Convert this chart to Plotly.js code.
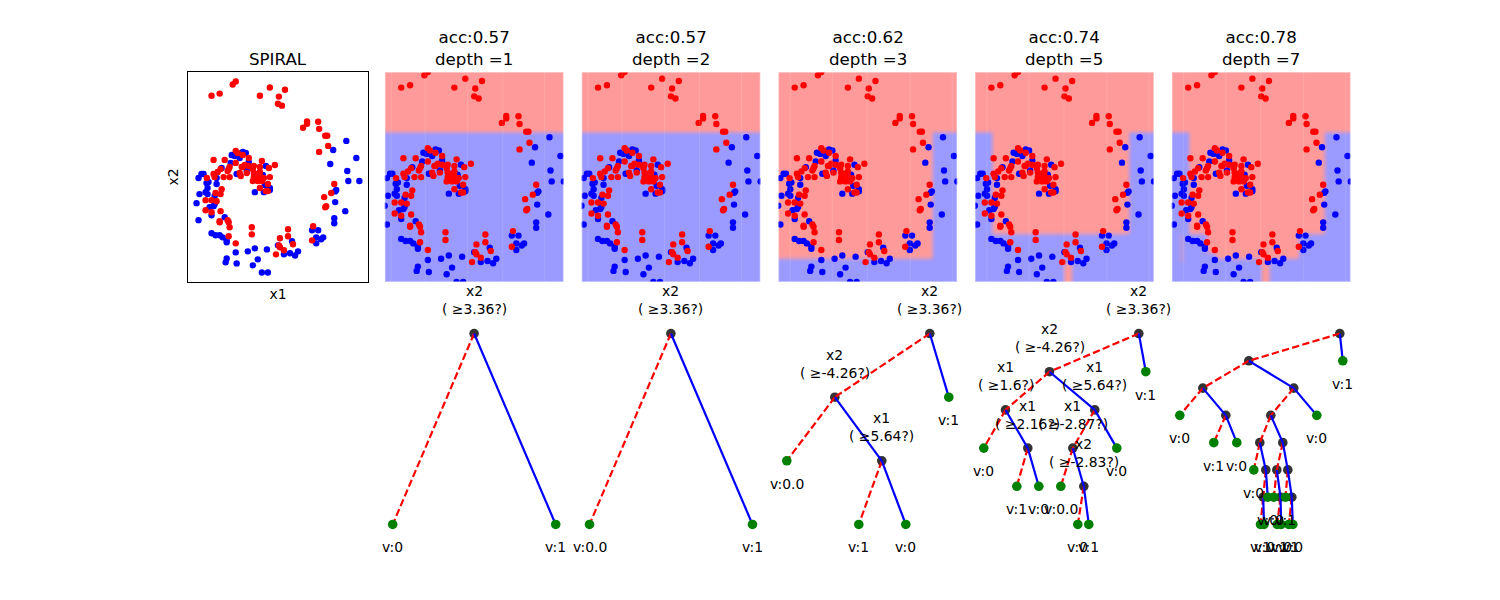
<!DOCTYPE html>
<html><head><meta charset="utf-8">
<script src="https://cdn.plot.ly/plotly-3.0.1.min.js"></script>
<style>html,body{margin:0;padding:0;background:#fff}</style></head>
<body><div id="chart" style="width:1500px;height:600px"></div>
<script>
// class 1 samples
const redX1=[-5.03,-4.34,-3.23,-2.97,-0.91,-0.06,1.23,0.71,0.63,0.97,2.77,3.11,3.11,4.06,4.14,4.66,4.83,4.91,4.14,5.43,5.17,4.57,4.74,4.66,3.63,3.54,1.49,1.49,0.80,1.91,0.71,0.80,1.14,0.46,-1.60,-1.60,-2.97,-3.57,-4.26,-4.34,-4.34,-3.66,-3.57,-3.49,-5.54,-5.54,-5.03,-5.03,-4.60,-4.69,-4.26,-4.17,-4.86,-3.91,-2.97,-2.80,-2.37,-1.86,-2.97,-0.74,0.37,-0.14,-0.91,-1.43,-1.86,-2.20,-2.37,-2.46,-3.49,-3.57,-3.66,-4.26,-4.51,-4.86,-4.77,-4.00,-3.49,-5.43,-2.63,-2.54,-2.03,-1.51,-1.43,-0.91,-1.09,-0.91,-1.17,-1.43,-1.51,-1.09,-0.66,-0.57,-0.06,-0.74,-0.23,-0.91,-0.23,-0.40];
const redX2=[6.02,6.16,6.76,6.96,6.02,6.56,6.42,5.96,5.49,5.36,3.89,4.31,4.16,4.29,3.82,3.36,3.36,2.69,2.29,0.16,-0.44,-0.71,-1.31,-1.38,-2.64,-3.58,-2.84,-3.31,-3.44,-3.84,-3.91,-4.04,-4.24,-4.51,-2.71,-3.18,-3.78,-3.31,-1.64,-2.31,-2.38,-2.24,-2.38,-2.71,-0.91,-1.58,-0.91,-1.71,-0.98,-0.44,-0.51,-0.18,1.76,1.76,2.36,2.22,2.09,1.89,1.56,1.69,1.42,1.22,1.29,1.36,1.36,1.42,1.29,1.29,1.29,1.16,1.02,1.16,0.96,0.82,0.62,0.62,0.62,0.56,0.89,0.69,0.89,1.16,0.89,0.96,0.82,0.67,0.56,0.62,0.36,0.36,0.49,0.56,0.62,0.36,0.16,-0.11,-0.31,-0.31];
// class 0 samples
const blueX1=[6.46,5.34,7.31,5.09,6.54,6.63,7.57,5.60,5.51,5.51,6.37,5.43,5.43,3.54,4.06,3.89,4.49,4.31,3.89,2.34,2.09,1.66,1.14,1.83,0.63,-0.31,-1.34,-1.94,-2.97,-1.09,-3.74,-3.83,-2.89,-1.51,-0.74,-0.23,-5.03,-4.69,-4.34,-4.09,-3.74,-3.74,-3.91,-6.14,-5.03,-5.20,-4.86,-4.77,-6.31,-4.77,-6.06,-5.54,-5.37,-5.37,-4.60,-5.29,-5.46,-6.14,-5.89,-5.71,-4.60,-4.17,-3.40,-3.31,-3.06,-2.63,-2.37,-2.11,-1.86,-2.89,-2.03,-0.66,-0.40,-1.34,-0.57,-0.06,-0.06,-0.49];
const blueX2=[3.02,2.42,1.89,1.49,1.02,0.36,0.36,-0.24,-0.33,-1.04,-1.64,-2.11,-2.44,-2.91,-2.91,-3.38,-3.38,-3.51,-3.78,-4.31,-4.58,-4.44,-4.51,-3.64,-3.91,-4.18,-4.11,-4.31,-4.38,-4.84,-4.78,-5.04,-5.11,-5.24,-5.71,-5.71,-3.11,-3.24,-3.24,-3.38,-3.58,-3.71,-2.04,-2.24,-1.91,-1.38,-1.31,-1.18,-1.11,-0.64,-0.51,-0.38,-0.51,-0.11,0.16,0.29,0.22,0.56,0.82,0.82,0.56,1.22,1.56,2.09,2.02,1.89,2.29,2.22,1.62,0.82,1.02,0.76,1.36,-0.38,-0.38,-0.11,-0.24,0.09];

const panelTitles=["acc:0.57<br>depth =1","acc:0.57<br>depth =2","acc:0.62<br>depth =3","acc:0.74<br>depth =5","acc:0.78<br>depth =7"];

// class 1 rectangles of each decision surface: [x1 from, x1 to, x2 from, x2 to, level]
const regionsD1=[[-9,9,3.36,9,1]];
const regionsD2=[[-9,9,3.36,9,1]];
const regionsD3=[[-9,9,3.36,9,1],[-9,5.64,-4.26,3.36,1]];
const regionsD5=[[-9,9,3.36,9,1],[-4.98,5.64,-2.76,3.36,1],[0.55,1.15,-9,-4.5,1]];
const regionsD7=[[-9,9,3.36,9,1],[-4.98,5.5,-2.76,3.36,1],[-3.6,3.51,-3.9,-2.76,1],[-2.9,3.51,-4.26,-2.76,1],[0.6,1.2,-9,-4.26,1],[-5.75,-5.4,-4.5,-2.76,0.3]];
// faint light seams in the surfaces, on the x1 axis
const seamsEarly=[-5.81,-3.17,0.12,2.84,6.09];
const seamsLate=[-5.38,-2.12,0.59,3.92,7.18];

// trees
const t1X=[89.4,8,171], t1Depth=[0,1,1], t1Parent=[-1,0,0], t1Branch=["","n","y"], t1Leaf=["","v:0","v:1"], t1Split=["x2","",""], t1Thresh=["3.36","",""];
const t2X=[89.4,8,171], t2Depth=[0,1,1], t2Parent=[-1,0,0], t2Branch=["","n","y"], t2Leaf=["","v:0.0","v:1"], t2Split=["x2","",""], t2Thresh=["3.36","",""];
const t3X=[151.6,56.6,170.6,8.6,103.6,80.6,127.6], t3Depth=[0,1,1,2,2,3,3], t3Parent=[-1,0,0,1,1,4,4], t3Branch=["","n","y","n","y","n","y"],
  t3Leaf=["","","v:1","v:0.0","","v:1","v:0"], t3Split=["x2","x2","","","x1","",""], t3Thresh=["3.36","-4.26","","","5.64","",""];
const t4X=[163.9,170.9,74.6,30.6,119.9,8.9,52.9,97.9,141.9,41.9,63.9,85.9,108.9,102.9,113.9],
  t4Depth=[0,1,1,2,2,3,3,3,3,4,4,4,4,5,5],
  t4Parent=[-1,0,0,2,2,3,3,4,4,6,6,7,7,12,12],
  t4Branch=["","y","n","n","y","n","y","n","y","n","y","n","y","n","y"],
  t4Leaf=["","v:1","","","","v:0","","","v:0","v:1","v:0","v:0.0","","v:0","v:1"],
  t4Split=["x2","","x2","x1","x1","","x1","x1","","","","","x2","",""],
  t4Thresh=["3.36","","-4.26","1.6","5.64","","2.16","-2.87","","","","","-2.83","",""];
const t5X=[168.1,171.1,77.1,31.1,122.1,8.1,54.1,99.1,145.1,42.1,65.1,88.1,111.1,82.1,94.1,105.1,116.1,91.5,96.1,102.1,108.8,113.8,120.1,88.8,92.3,105.5,109.5,117.1,121.1],
  t5Depth=[0,1,1,2,2,3,3,3,3,4,4,4,4,5,5,5,5,6,6,6,6,6,6,7,7,7,7,7,7],
  t5Parent=[-1,0,0,2,2,3,3,4,4,6,6,7,7,11,11,12,12,14,14,15,15,16,16,17,17,20,20,22,22],
  t5Branch=["","y","n","n","y","n","y","n","y","n","y","n","y","n","y","n","y","n","y","n","y","n","y","n","y","n","y","n","y"],
  t5Leaf=["","v:1","","","","v:0","","","v:0","v:1","v:0","","","v:0","","","","","v:0","v:0","","v:1","","v:1","v:0","v:1","v:0","v:1","v:0"],
  t5Split=[], t5Thresh=[];

const font="DejaVu Sans";
const lefts=[188.4,384.7,581.5,778.2,974.9,1171.7], W=179.1, H=600;
const pw=1500;
const xd=i=>[lefts[i]/pw,(lefts[i]+W)/pw];
const topDom=[(H-282)/H,(H-72)/H], botDom=[(H-534)/H,(H-324)/H];

const allX=redX1.concat(blueX1), allX2=redX2.concat(blueX2);
const xMin=Math.min(...allX), xMax=Math.max(...allX), yMin=Math.min(...allX2), yMax=Math.max(...allX2);
const mx=(xMax-xMin)*0.05, my=(yMax-yMin)*0.05;

const traces=[], annotations=[], shapes=[], layout={width:1500,height:600,margin:{l:0,r:0,t:0,b:0},showlegend:false,paper_bgcolor:"#fff",plot_bgcolor:"#fff",font:{family:font,color:"#000"},hovermode:false};

function axis(dom,range,extra){return Object.assign({domain:dom,range:range,showgrid:false,zeroline:false,showticklabels:false,ticks:"",showline:false,fixedrange:true},extra||{});}
function points(xa,ya){
  const m=(c)=>({color:c,size:6.4,line:{width:0}});
  traces.push({type:"scatter",mode:"markers",x:blueX1,y:blueX2,xaxis:xa,yaxis:ya,marker:m("#0000ff")});
  traces.push({type:"scatter",mode:"markers",x:redX1,y:redX2,xaxis:xa,yaxis:ya,marker:m("#ff0000")});
}
function surface(regions,xa,ya,seams){
  const nx=90, ny=105, gx=[], gy=[], z=[], wx=0.2, wy=0.16, ss=4;
  const at=(x,y)=>{ let v=0; for(const r of regions){ if(x>=r[0]&&x<r[1]&&y>=r[2]&&y<r[3]) v=r[4]; } return v; };
  for(let i=0;i<nx;i++) gx.push(xMin+(xMax-xMin)*i/(nx-1));
  for(let j=0;j<ny;j++) gy.push(yMin+(yMax-yMin)*j/(ny-1));
  for(const y of gy){ const row=[]; for(const x of gx){
      let s=0,n=0;
      for(let a=-ss;a<=ss;a++) for(let b=-ss;b<=ss;b++){ s+=at(x+a/ss*wx,y+b/ss*wy); n++; }
      row.push(s/n);
    } z.push(row); }
  traces.push({type:"heatmap",x:gx,y:gy,z:z,zmin:0,zmax:1,zsmooth:"best",showscale:false,xaxis:xa,yaxis:ya,hoverinfo:"skip",colorscale:[[0,"#9a9aff"],[1,"#ff9a9a"]]});
  seams.forEach(s=>shapes.push({type:"line",xref:xa,yref:ya+" domain",x0:s,x1:s,y0:0,y1:1,layer:"above",line:{color:"rgba(255,255,255,0.12)",width:1}}));
  shapes.push({type:"rect",xref:xa+" domain",yref:ya+" domain",x0:0,x1:1,y0:0,y1:1,layer:"above",line:{color:"rgba(255,255,255,0.4)",width:2}});
}
function tree(X,Depth,Parent,Branch,Leaf,Split,Thresh,xa,ya){
  const D=Math.max(...Depth), yv=Depth.map(d=>-d/D);
  const isLeaf=Leaf.map(s=>s!=="");
  const rx=[],ry=[],bx=[],by=[];
  Parent.forEach((p,i)=>{ if(p<0)return; const ax=Branch[i]==="n"?rx:bx, ay=Branch[i]==="n"?ry:by; ax.push(X[p],X[i],null); ay.push(yv[p],yv[i],null); });
  traces.push({type:"scatter",mode:"markers",x:X.filter((_,i)=>!isLeaf[i]),y:yv.filter((_,i)=>!isLeaf[i]),xaxis:xa,yaxis:ya,cliponaxis:false,marker:{color:"#333333",size:9.6,line:{width:0}}});
  traces.push({type:"scatter",mode:"lines",x:rx,y:ry,xaxis:xa,yaxis:ya,cliponaxis:false,line:{color:"#ff0000",width:2.2,dash:"7.4px,3.2px"}});
  traces.push({type:"scatter",mode:"lines",x:bx,y:by,xaxis:xa,yaxis:ya,cliponaxis:false,line:{color:"#0000ff",width:2.2}});
  traces.push({type:"scatter",mode:"markers",x:X.filter((_,i)=>isLeaf[i]),y:yv.filter((_,i)=>isLeaf[i]),xaxis:xa,yaxis:ya,cliponaxis:false,marker:{color:"#008000",size:9.6,line:{width:0}}});
  const note=(i,text,shift)=>annotations.push({xref:xa,yref:ya,x:X[i],y:yv[i],text:text,showarrow:false,yshift:shift,xanchor:"center",yanchor:"middle",font:{size:13.9,family:font,color:"#000"}});
  X.forEach((_,i)=>{
    if(isLeaf[i]) note(i,Leaf[i],-23);
    else if(Split[i]){ note(i,Split[i],42.5); note(i,"( ≥"+Thresh[i]+"?)",24.5); }
  });
}

// SPIRAL panel
layout.xaxis=axis(xd(0),[xMin-mx,xMax+mx],{showline:true,mirror:true,linecolor:"#000",linewidth:1,title:{text:"x1",font:{size:13.9,family:font,color:"#000"},standoff:7}});
layout.yaxis=axis(topDom,[yMin-my,yMax+my],{showline:true,mirror:true,linecolor:"#000",linewidth:1,title:{text:"x2",font:{size:13.9,family:font,color:"#000"},standoff:5}});
layout.yaxis.anchor="x"; layout.xaxis.anchor="y";
points("x","y");
annotations.push({xref:"x domain",yref:"paper",x:0.5,y:(H-71)/H,text:"SPIRAL",showarrow:false,xanchor:"center",yanchor:"bottom",font:{size:16.67,family:font,color:"#000"}});

// decision panels
const regionSets=[regionsD1,regionsD2,regionsD3,regionsD5,regionsD7];
const seamSets=[seamsEarly,seamsEarly,seamsLate,seamsLate,seamsLate];
const treeSets=[[t1X,t1Depth,t1Parent,t1Branch,t1Leaf,t1Split,t1Thresh],[t2X,t2Depth,t2Parent,t2Branch,t2Leaf,t2Split,t2Thresh],[t3X,t3Depth,t3Parent,t3Branch,t3Leaf,t3Split,t3Thresh],[t4X,t4Depth,t4Parent,t4Branch,t4Leaf,t4Split,t4Thresh],[t5X,t5Depth,t5Parent,t5Branch,t5Leaf,t5Split,t5Thresh]];
regionSets.forEach((regions,k)=>{
  const a=2*k+2, b=2*k+3, xt="x"+a, yt="y"+a, xb="x"+b, yb="y"+b;
  layout["xaxis"+a]=axis(xd(k+1),[xMin,xMax],{anchor:yt});
  layout["yaxis"+a]=axis(topDom,[yMin,yMax],{anchor:xt});
  layout["xaxis"+b]=axis(xd(k+1),[0,W],{anchor:yb});
  layout["yaxis"+b]=axis(botDom,[-1.05,0.05],{anchor:xb});
  surface(regions,xt,yt,seamSets[k]);
  points(xt,yt);
  const t=treeSets[k];
  tree(t[0],t[1],t[2],t[3],t[4],t[5],t[6],xb,yb);
  annotations.push({xref:xt+" domain",yref:"paper",x:0.5,y:(H-71)/H,text:panelTitles[k],showarrow:false,xanchor:"center",yanchor:"bottom",font:{size:16.67,family:font,color:"#000"}});
});
layout.annotations=annotations;
layout.shapes=shapes;
Plotly.newPlot("chart",traces,layout,{displayModeBar:false,staticPlot:true});
</script></body></html>
